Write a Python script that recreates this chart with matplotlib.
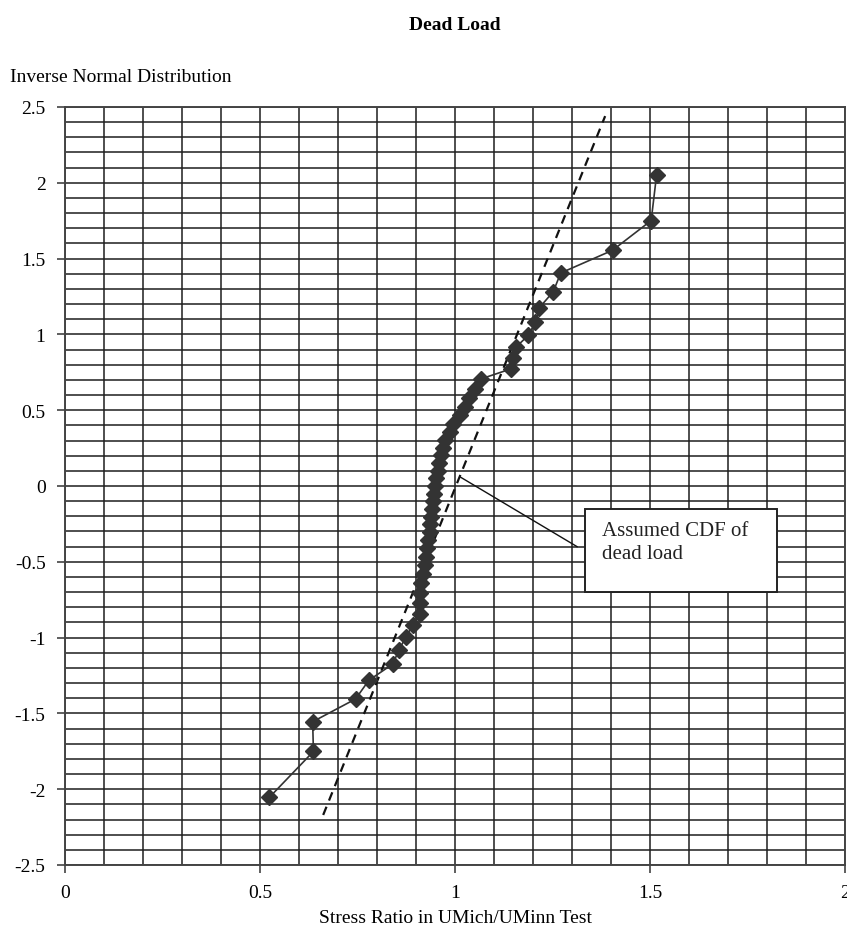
import matplotlib
matplotlib.use("Agg")
import matplotlib.pyplot as plt
from matplotlib.patches import Rectangle
from matplotlib.ticker import MultipleLocator

plt.rcParams['font.family'] = ['Liberation Serif', 'DejaVu Serif']

# test points (stress ratio vs inverse normal of plotting position)
z_vals = [-2.054, -1.751, -1.555, -1.405, -1.282, -1.175, -1.080, -0.994, -0.915, -0.842,
          -0.772, -0.706, -0.643, -0.583, -0.524, -0.468, -0.412, -0.358, -0.305, -0.253,
          -0.202, -0.151, -0.100, -0.050, 0.000, 0.050, 0.100, 0.151, 0.202, 0.253,
          0.305, 0.358, 0.412, 0.468, 0.524, 0.583, 0.643, 0.706, 0.772, 0.842,
          0.915, 0.994, 1.080, 1.175, 1.282, 1.405, 1.555, 1.751, 2.054]
ratio = [0.524, 0.637, 0.635, 0.745, 0.779, 0.840, 0.857, 0.874, 0.893, 0.909,
         0.910, 0.910, 0.914, 0.918, 0.922, 0.925, 0.929, 0.932, 0.935, 0.937,
         0.939, 0.941, 0.943, 0.946, 0.949, 0.952, 0.956, 0.960, 0.964, 0.968,
         0.974, 0.988, 0.995, 1.013, 1.025, 1.036, 1.052, 1.066, 1.143, 1.148,
         1.156, 1.188, 1.206, 1.216, 1.252, 1.271, 1.404, 1.503, 1.517]

# assumed CDF of dead load (straight line on normal paper)
cdf_x = [0.662, 1.385]
cdf_z = [-2.17, 2.44]

note_text = "Assumed CDF of\ndead load"

fig = plt.figure(figsize=(8.47, 9.37), dpi=100)
ax = fig.add_axes([65/847, 71/937, 780/847, 758/937])

ax.set_xlim(0, 2)
ax.set_ylim(-2.5, 2.5)
ax.xaxis.set_major_locator(MultipleLocator(0.5))
ax.yaxis.set_major_locator(MultipleLocator(0.5))
ax.xaxis.set_minor_locator(MultipleLocator(0.1))
ax.yaxis.set_minor_locator(MultipleLocator(0.1))
ax.grid(which='both', color='#1e1e1e', lw=1.1)
ax.set_axisbelow(True)
ax.tick_params(which='minor', length=0)
ax.tick_params(which='major', length=6, width=1.1, color='#333333',
               labelsize=14, direction='out')
ax.tick_params(axis='x', pad=8)
ax.tick_params(axis='y', pad=8)
ax.xaxis.set_major_formatter(plt.FuncFormatter(lambda v, p: f"{v:g}"))
ax.yaxis.set_major_formatter(plt.FuncFormatter(lambda v, p: f"{v:g}"))
for s in ax.spines.values():
    s.set_color('#444444')
    s.set_linewidth(1.4)

ax.plot(cdf_x, cdf_z, color='#111111', lw=1.6, dashes=(4, 3), zorder=3)
ax.plot(ratio, z_vals, color='#333333', lw=1.2, marker='D', markersize=8,
        markerfacecolor='#333333', markeredgecolor='#333333', zorder=4)

# callout
ax.plot([1.015, 1.313], [0.057, -0.40], color='#111111', lw=1.0, zorder=5)
ax.add_patch(Rectangle((1.333, -0.701), 0.492, 0.549, facecolor='white',
                       edgecolor='#222222', lw=1.4, zorder=6))
ax.text(1.376, -0.23, note_text, fontsize=15, color='#222222', va='top',
        ha='left', linespacing=1.3, zorder=7)

fig.text(455/847, 1 - 26/937, "Dead Load", fontsize=14, fontweight='bold',
         ha='center', va='center')
fig.text(10/847, 1 - 78/937, "Inverse Normal Distribution", fontsize=14,
         ha='left', va='center')
fig.text(455/847, 1 - 919/937, "Stress Ratio in UMich/UMinn Test", fontsize=14,
         ha='center', va='center')

fig.savefig("out.png", dpi=100)
